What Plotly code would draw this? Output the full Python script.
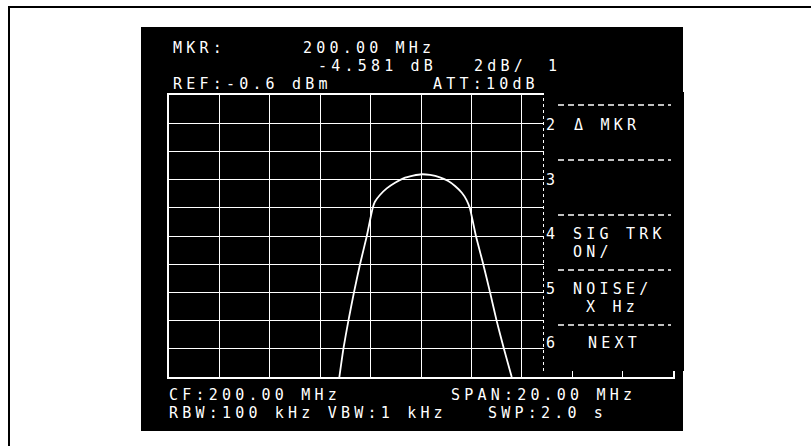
import plotly.graph_objects as go

# ---- data ----
freq_mhz = [196.76, 196.92, 197.12, 197.34, 197.58, 197.85, 198.08, 198.17, 198.37, 198.64,
            198.97, 199.30, 199.69, 200.03, 200.36, 200.75, 201.08, 201.35, 201.62, 201.81,
            201.94, 202.18, 202.47, 202.74, 203.00, 203.29, 203.60]
level_dbm = [-20.6, -18.6, -16.6, -14.6, -12.6, -10.6, -8.64, -8.17, -7.69, -7.22,
             -6.82, -6.51, -6.32, -6.22, -6.27, -6.44, -6.70, -7.05, -7.53, -8.05,
             -8.64, -10.6, -12.6, -14.6, -16.6, -18.6, -20.6]

header_texts = ["MKR:", "200.00 MHz", "-4.581 dB", "2dB/", "1", "REF:-0.6 dBm", "ATT:10dB"]
menu_numbers = ["2", "3", "4", "5", "6"]
menu_labels = ["&#916; MKR", "", "SIG TRK", "NOISE/", "NEXT"]
menu_sublabels = ["", "", "ON/", "X Hz", ""]
footer_texts = ["CF:200.00 MHz", "SPAN:20.00 MHz", "RBW:100 kHz VBW:1 kHz", "SWP:2.0 s"]

ref_level = -0.6
db_per_div = 2
center = 200.0
span = 20.0

# ---- layout geometry (pixels) ----
W, H = 811, 446
PL, PR, PT, PB = 169, 673, 95, 377


def X(px):
    return (px - PL) / (PR - PL)


def Y(py):
    return (PB - py) / (PB - PT)


fig = go.Figure()
fig.add_trace(go.Scatter(
    x=freq_mhz, y=level_dbm, mode="lines",
    line=dict(color="white", width=1.8, shape="spline", smoothing=0.5),
    hoverinfo="skip", showlegend=False,
))

FONT = "DejaVu Sans Mono"


def txt(s, px, py, size=15, ls=4.2, anchor="left"):
    fig.add_annotation(
        x=X(px), y=Y(py), xref="paper", yref="paper",
        text='<span style="letter-spacing:%.1fpx">%s</span>' % (ls, s),
        showarrow=False, xanchor=anchor, yanchor="middle", borderpad=0,
        font=dict(family=FONT, size=size, color="white"),
    )


# header
hx = [172, 302, 317, 473, 547, 172, 432]
hy = [48, 48, 66, 66, 66, 84, 84]
for s, px, py in zip(header_texts, hx, hy):
    txt(s, px, py)

# footer
fx = [168, 450, 168, 487]
fy = [395, 395, 413, 413]
for s, px, py in zip(footer_texts, fx, fy):
    txt(s, px, py)

shapes = []
# black screen panel
shapes.append(dict(type="rect", xref="paper", yref="paper", layer="below",
                   x0=X(141), x1=X(683), y0=Y(431), y1=Y(27),
                   fillcolor="black", line=dict(width=0)))
# menu panel covering right part of graticule
shapes.append(dict(type="rect", xref="paper", yref="paper", layer="above",
                   x0=X(544), x1=X(684), y0=Y(371), y1=Y(92),
                   fillcolor="black", line=dict(width=0)))
# dotted divider at the menu edge
shapes.append(dict(type="line", xref="paper", yref="paper", layer="above",
                   x0=X(543.5), x1=X(543.5), y0=Y(371), y1=Y(96),
                   line=dict(color="white", width=1, dash="dot")))
# menu separators
for sy in [105, 160, 215, 270, 325]:
    shapes.append(dict(type="line", xref="paper", yref="paper", layer="above",
                       x0=X(558), x1=X(671), y0=Y(sy), y1=Y(sy),
                       line=dict(color="white", width=1.5, dash="6px,4px")))
# outer frame (scan edge)
shapes.append(dict(type="line", xref="paper", yref="paper", layer="above",
                   x0=X(9), x1=X(9), y0=Y(446), y1=Y(6),
                   line=dict(color="black", width=2)))
shapes.append(dict(type="line", xref="paper", yref="paper", layer="above",
                   x0=X(8), x1=X(811), y0=Y(7), y1=Y(7),
                   line=dict(color="black", width=2)))

fig.update_layout(shapes=shapes)

# menu texts
menu_y = [125, 180, 234, 289, 343]
for n, lab, sub, my in zip(menu_numbers, menu_labels, menu_sublabels, menu_y):
    txt(n, 545, my)
    if lab:
        lx = 572 if n in ("4", "5") else (573 if n == "2" else 587)
        txt(lab, lx, my)
    if sub:
        sx = 572 if n == "4" else 585
        txt(sub, sx, my + 18)

fig.update_xaxes(range=[center - span / 2, center + span / 2], dtick=2, tick0=190,
                 showgrid=True, gridcolor="white", gridwidth=1.4,
                 showline=True, linecolor="white", linewidth=1.5, mirror=True,
                 zeroline=False, showticklabels=False, ticks="", fixedrange=True)
fig.update_yaxes(range=[ref_level - 10 * db_per_div, ref_level], dtick=db_per_div, tick0=ref_level,
                 showgrid=True, gridcolor="white", gridwidth=1.4,
                 showline=True, linecolor="white", linewidth=1.5, mirror=True,
                 zeroline=False, showticklabels=False, ticks="", fixedrange=True)

fig.update_layout(
    width=W, height=H,
    margin=dict(l=PL, r=W - PR, t=PT, b=H - PB, pad=0),
    paper_bgcolor="white", plot_bgcolor="black",
    showlegend=False,
)

fig.write_html("out.html", config={"displayModeBar": False},
               post_script="document.body.style.margin='0px';document.body.style.overflow='hidden';")
